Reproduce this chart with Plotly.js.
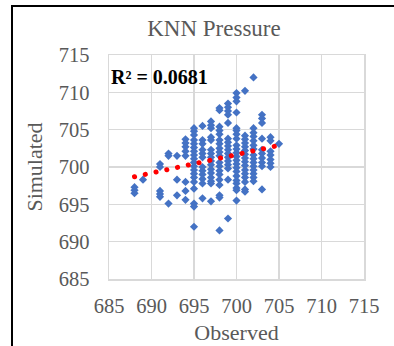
<!DOCTYPE html>
<html>
<head>
<meta charset="utf-8">
<script src="https://cdn.plot.ly/plotly-3.0.1.min.js"></script>
<style>
  html, body { margin: 0; padding: 0; background: #fff; }
  #wrap { position: relative; width: 394px; height: 346px; overflow: hidden; }
  #chart { width: 394px; height: 346px; }
  #frame { position: absolute; left: 11px; top: 5px; width: 500px; height: 500px;
           border-left: 2px solid #000; border-top: 2px solid #000; pointer-events: none; }
</style>
</head>
<body>
<div id="wrap"><div id="chart"></div><div id="frame"></div></div>
<script>
// Observed (x) and simulated (y) pressure values
const observed = [
  688,688,688,
  689,
  691,691,691,691,691,
  692,692,692,
  693,693,693,
  694,694,694,694,694,694,694,694,
  695,695,695,695,695,695,695,695,695,695,695,695,695,695,695,695,695,695,695,
  696,696,696,696,696,696,696,696,696,696,696,696,
  697,697,697,697,697,697,697,697,697,697,697,697,697,697,697,697,
  698,698,698,698,698,698,698,698,698,698,698,698,698,698,698,698,698,698,698,
  699,699,699,699,699,699,699,699,699,699,699,699,699,699,699,699,
  700,700,700,700,700,700,700,700,700,700,700,700,700,700,700,700,700,700,700,700,700,700,
  701,701,701,701,701,701,701,701,701,701,701,701,701,701,701,701,
  702,702,702,702,702,702,702,702,702,702,702,702,702,702,702,
  703,703,703,703,703,703,703,703,703,703,
  704,704,704,704,704,704,704,
  705
];
const simulated = [
  697.3,696.9,696.5,
  698.3,
  700.4,700.0,696.8,696.4,696.0,
  701.8,701.5,695.1,
  701.5,698.3,696.2,
  703.7,703.2,702.7,702.1,701.5,698.0,696.8,695.6,
  705.2,704.8,704.3,703.6,703.1,702.6,702.1,701.6,701.1,700.6,700.1,699.6,699.1,698.6,698.0,697.1,695.1,694.7,692.0,
  705.5,703.6,703.1,702.3,701.8,701.3,700.0,699.5,699.0,698.4,697.8,695.8,
  706.1,705.6,705.2,704.0,703.6,702.3,701.8,701.3,700.8,700.3,699.7,699.2,698.6,698.1,697.8,695.4,
  707.9,707.6,705.4,704.9,704.4,703.6,703.1,702.5,702.0,701.5,700.6,700.1,699.5,699.0,698.3,697.6,696.2,695.9,691.5,
  708.5,708.0,707.5,707.0,705.9,703.8,703.3,702.8,702.3,701.8,701.3,700.8,700.3,699.8,698.3,693.1,
  709.9,709.3,708.8,707.3,705.2,704.9,704.4,703.8,702.9,702.4,701.9,701.4,700.9,700.4,699.9,699.4,698.8,698.2,697.8,697.2,696.9,695.5,
  710.2,704.2,703.7,703.2,702.7,702.2,701.7,701.2,700.7,700.2,699.6,699.1,698.6,698.0,697.0,696.7,
  712.0,705.2,704.6,704.1,703.5,702.9,702.4,701.6,701.1,700.6,700.1,699.6,699.1,698.6,698.1,
  707.0,706.5,705.9,703.8,702.3,701.8,701.2,700.6,700.1,697.0,
  704.0,703.5,702.1,701.6,701.0,700.5,700.0,
  703.1
];
// Linear trendline endpoints
const trendX = [688, 705];
const trendY = [698.7, 702.9];
const rSquaredLabel = "R² = 0.0681";
const tickVals = [685, 690, 695, 700, 705, 710, 715];

const serif = "Liberation Serif, Times New Roman, serif";
const grey = "#595959";

const traces = [
  {
    x: observed, y: simulated, type: "scatter", mode: "markers",
    marker: { symbol: "diamond", size: 6.3, color: "#4472C4", line: { width: 0 } },
    showlegend: false, hoverinfo: "x+y"
  },
  {
    x: trendX, y: trendY, type: "scatter", mode: "lines",
    line: { color: "#FF0000", width: 5, dash: "0.1px,10.9px" },
    showlegend: false, hoverinfo: "skip"
  }
];

const axisCommon = {
  range: [685, 715], tickvals: tickVals, ticktext: tickVals.map(String),
  showgrid: true, gridcolor: "#D9D9D9", gridwidth: 1.5,
  zeroline: false, showline: true, linecolor: "#D9D9D9", linewidth: 1.5, mirror: true,
  ticks: "", tickfont: { family: serif, size: 20.5, color: grey },
  automargin: false
};

const layout = {
  width: 394, height: 346,
  margin: { l: 109, r: 30, t: 55, b: 67 },
  paper_bgcolor: "#ffffff", plot_bgcolor: "#ffffff",
  title: { text: "KNN Pressure", font: { family: serif, size: 23, color: grey },
           x: 214 / 394, xref: "container", xanchor: "center", y: 0.92, yref: "container", yanchor: "middle" },
  xaxis: Object.assign({}, axisCommon, {
    title: { text: "Observed", font: { family: serif, size: 22, color: grey }, standoff: 8 },
    ticklabelstandoff: 8
  }),
  yaxis: Object.assign({}, axisCommon, {
    title: { text: "Simulated", font: { family: serif, size: 22, color: grey }, standoff: 10 },
    ticklabelstandoff: 14
  }),
  annotations: [{
    text: "<b>" + rSquaredLabel + "</b>", xref: "paper", yref: "paper",
    x: 0, y: 0.9, xanchor: "left", yanchor: "middle", showarrow: false,
    font: { family: serif, size: 20, color: "#000000" }
  }]
};

Plotly.newPlot("chart", traces, layout, { displayModeBar: false, staticPlot: true }).then(function (gd) {
  const lines = gd.querySelectorAll(".scatterlayer .trace path.js-line");
  lines.forEach(function (p) { p.style.strokeLinecap = "round"; });
});
</script>
</body>
</html>
